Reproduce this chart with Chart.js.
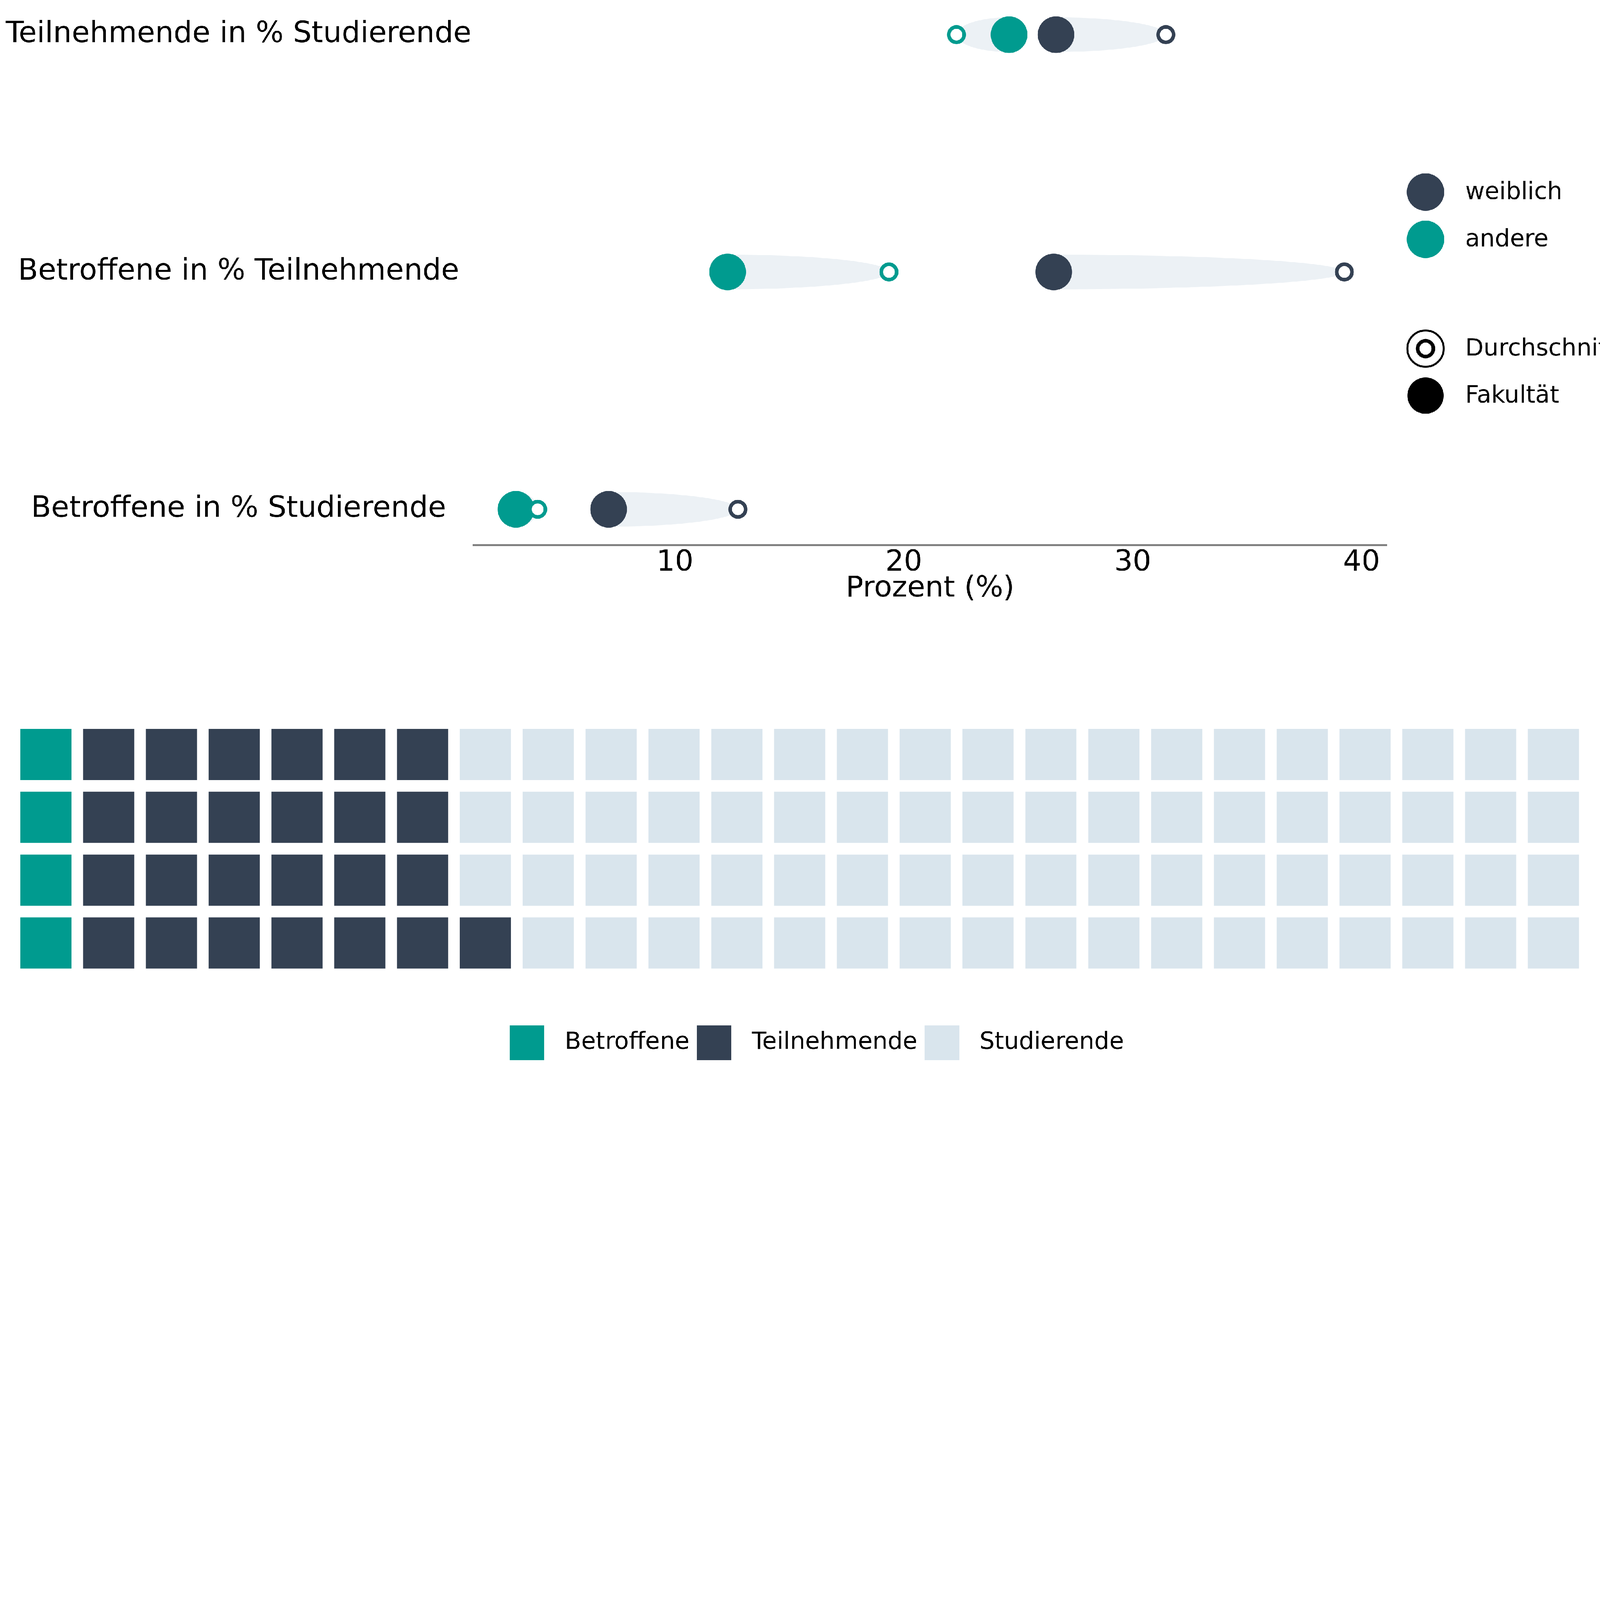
<!DOCTYPE html>
<html lang="de">
<head>
<meta charset="utf-8">
<title>Betroffene und Teilnehmende</title>
<script src="https://cdn.jsdelivr.net/npm/chart.js@4.4.1/dist/chart.umd.min.js"></script>
<style>
    html, body { margin: 0; padding: 0; background: #fff; overflow: hidden; }
    #page { position: absolute; left: 0; top: 0; width: 5723px; height: 4302px; transform-origin: 0 0; }
    #dotChart { position: absolute; left: 0; top: 0; }
    #waffleChart { position: absolute; left: 0; top: 2400px; }
</style>
</head>
<body>
<div id="page">
    <canvas id="dotChart" width="5723" height="2179"></canvas>
    <canvas id="waffleChart" width="5723" height="1402"></canvas>
</div>
<script>
/* ================= DATA ================= */
const rowLabels = ["Betroffene in % Studierende", "Betroffene in % Teilnehmende", "Teilnehmende in % Studierende"];
const weiblichFakultaet = [7.1, 26.55, 26.65];
const weiblichSchnitt = [12.75, 39.25, 31.45];
const andereFakultaet = [3.05, 12.3, 24.6];
const andereSchnitt = [4.0, 19.35, 22.3];
const xTicks = [10, 20, 30, 40];

const waffleGroups = ["Betroffene", "Teilnehmende", "Studierende"];
const waffleCounts = [4, 25, 71];
const waffleRows = 4;

const DARK = "#344153";
const TEAL = "#009B8F";
const LIGHT = "#D9E5ED";
const LINK = "#ECF1F5";

// the layout is drawn for a 5723 px wide page; fit it to the real viewport width
const pageScale = window.innerWidth / 5723;
document.getElementById("page").style.transform = "scale(" + pageScale + ")";

Chart.defaults.font.family = "'DejaVu Sans', sans-serif";
Chart.defaults.color = "#000";

/* ================= DOT CHART ================= */
function rowPoints(values) {
    return values.map((v, i) => ({ x: v, y: i }));
}

// tapered band from the Fakultät dot towards the Durchschnitt dot
const comets = {
    id: "comets",
    beforeDatasetsDraw(chart) {
        const { ctx, scales: { x, y } } = chart;
        ctx.save();
        ctx.fillStyle = LINK;
        [[weiblichFakultaet, weiblichSchnitt], [andereFakultaet, andereSchnitt]].forEach(([fak, avg]) => {
            fak.forEach((v, i) => {
                const x0 = x.getPixelForValue(v);
                const x1 = x.getPixelForValue(avg[i]);
                const yc = y.getPixelForValue(i);
                const steps = 80;
                ctx.beginPath();
                for (let k = 0; k <= steps; k++) {
                    const t = k / steps;
                    ctx.lineTo(x0 + (x1 - x0) * t, yc - 62 * Math.sqrt(1 - t * t));
                }
                for (let k = steps; k >= 0; k--) {
                    const t = k / steps;
                    ctx.lineTo(x0 + (x1 - x0) * t, yc + 62 * Math.sqrt(1 - t * t));
                }
                ctx.closePath();
                ctx.fill();
            });
        });
        ctx.restore();
    }
};

// legend on the right: colour group + marker meaning
const sideLegend = {
    id: "sideLegend",
    afterDraw(chart) {
        const { ctx, chartArea } = chart;
        const cx = chartArea.right + 139;
        const tx = chartArea.right + 281;
        ctx.save();
        ctx.font = "85px 'DejaVu Sans'";
        ctx.textBaseline = "middle";
        ctx.textAlign = "left";

        ctx.fillStyle = DARK;
        ctx.beginPath(); ctx.arc(cx, 687, 67, 0, Math.PI * 2); ctx.fill();
        ctx.fillStyle = TEAL;
        ctx.beginPath(); ctx.arc(cx, 856, 67, 0, Math.PI * 2); ctx.fill();

        ctx.strokeStyle = "#000";
        ctx.lineWidth = 7;
        ctx.beginPath(); ctx.arc(cx, 1247, 65, 0, Math.PI * 2); ctx.stroke();
        ctx.lineWidth = 13;
        ctx.beginPath(); ctx.arc(cx, 1247, 28, 0, Math.PI * 2); ctx.stroke();
        ctx.fillStyle = "#000";
        ctx.beginPath(); ctx.arc(cx, 1415, 65, 0, Math.PI * 2); ctx.fill();

        ctx.fillText("weiblich", tx, 690);
        ctx.fillText("andere", tx, 859);
        ctx.fillText("Durchschnitt", tx, 1250);
        ctx.fillText("Fakultät", tx, 1418);
        ctx.restore();
    }
};

function noEdgePadding(s) {
    s.paddingTop = 0;
    s.paddingBottom = 0;
    s.paddingLeft = 0;
    s.paddingRight = 0;
}

const dotCtx = document.getElementById("dotChart").getContext("2d");
const dotChart = new Chart(dotCtx, {
    type: "scatter",
    data: {
        datasets: [{
            label: "weiblich Durchschnitt",
            data: rowPoints(weiblichSchnitt),
            pointRadius: 27.5,
            pointHoverRadius: 27.5,
            pointBorderWidth: 13,
            backgroundColor: "#fff",
            borderColor: DARK,
            clip: false
        }, {
            label: "andere Durchschnitt",
            data: rowPoints(andereSchnitt),
            pointRadius: 27.5,
            pointHoverRadius: 27.5,
            pointBorderWidth: 13,
            backgroundColor: "#fff",
            borderColor: TEAL,
            clip: false
        }, {
            label: "weiblich Fakultät",
            data: rowPoints(weiblichFakultaet),
            pointRadius: 65.5,
            pointHoverRadius: 65.5,
            pointBorderWidth: 0,
            backgroundColor: DARK,
            borderColor: DARK,
            clip: false
        }, {
            label: "andere Fakultät",
            data: rowPoints(andereFakultaet),
            pointRadius: 65.5,
            pointHoverRadius: 65.5,
            pointBorderWidth: 0,
            backgroundColor: TEAL,
            borderColor: TEAL,
            clip: false
        }]
    },
    options: {
        responsive: false,
        animation: false,
        devicePixelRatio: 1,
        layout: { autoPadding: false, padding: { top: 0, right: 763, bottom: 0, left: 0 } },
        plugins: {
            legend: { display: false },
            tooltip: { enabled: false }
        },
        scales: {
            x: {
                type: "linear",
                min: 1.2,
                max: 41.1,
                afterBuildTicks: s => { s.ticks = xTicks.map(v => ({ value: v })); },
                afterFit: s => { s.height = 230; noEdgePadding(s); },
                grid: { display: false },
                border: { display: true, color: "#808080", width: 7 },
                ticks: { color: "#000", padding: 0, font: { size: 104, lineHeight: 1.1 } },
                title: {
                    display: true,
                    text: "Prozent (%)",
                    color: "#000",
                    font: { size: 104 },
                    padding: { top: 0, bottom: 10 }
                }
            },
            y: {
                type: "linear",
                min: -0.15,
                max: 2.146,
                afterBuildTicks: s => { s.ticks = rowLabels.map((_, i) => ({ value: i })); },
                afterFit: s => { s.width = 1694; noEdgePadding(s); },
                grid: { display: false },
                border: { display: false },
                ticks: {
                    color: "#000",
                    padding: 0,
                    crossAlign: "center",
                    font: { size: 105 },
                    callback: v => rowLabels[v]
                }
            }
        }
    },
    plugins: [comets, sideLegend]
});

/* ================= WAFFLE CHART ================= */
const waffleColors = [TEAL, DARK, LIGHT];
const waffleSets = waffleGroups.map((group, gi) => {
    const start = waffleCounts.slice(0, gi).reduce((a, b) => a + b, 0);
    const cells = [];
    for (let k = start; k < start + waffleCounts[gi]; k++) {
        // filled column by column, bottom row first
        cells.push({ x: Math.floor(k / waffleRows), y: waffleRows - 1 - (k % waffleRows) });
    }
    return {
        label: group,
        data: cells,
        pointStyle: "rect",
        pointRadius: 129.4,
        pointHoverRadius: 129.4,
        pointBorderWidth: 0,
        borderWidth: 0,
        backgroundColor: waffleColors[gi],
        borderColor: waffleColors[gi],
        clip: false
    };
});

// square legend swatch, larger than the label font
function swatch(color) {
    const c = document.createElement("canvas");
    c.width = 124;
    c.height = 124;
    const g = c.getContext("2d");
    g.fillStyle = color;
    g.fillRect(0, 0, 124, 124);
    return c;
}

// the swatches are taller than the legend row, so draw the legend without its clip box
const unclippedLegend = {
    id: "unclippedLegend",
    afterInit(chart) {
        const legend = chart.legend;
        if (legend && typeof legend._draw === "function") {
            legend.draw = function () {
                if (this.options.display) this._draw();
            };
        }
    }
};

const waffleCtx = document.getElementById("waffleChart").getContext("2d");
const waffleChart = new Chart(waffleCtx, {
    type: "scatter",
    data: { datasets: waffleSets },
    options: {
        responsive: false,
        animation: false,
        devicePixelRatio: 1,
        layout: { autoPadding: false, padding: { top: 0, right: 0, bottom: 20, left: 90 } },
        plugins: {
            legend: {
                display: true,
                position: "bottom",
                align: "center",
                labels: {
                    usePointStyle: true,
                    pointStyleWidth: 185,
                    padding: -5,
                    color: "#000",
                    font: { size: 85 },
                    generateLabels: chart => Chart.defaults.plugins.legend.labels.generateLabels(chart)
                        .map((item, i) => Object.assign(item, { pointStyle: swatch(waffleColors[i]) }))
                }
            },
            tooltip: { enabled: false }
        },
        scales: {
            x: { type: "linear", display: false, min: -0.327, max: 24.74 },
            y: { type: "linear", display: false, reverse: true, min: -1.328, max: 4.419 }
        }
    },
    plugins: [unclippedLegend]
});
</script>
</body>
</html>
